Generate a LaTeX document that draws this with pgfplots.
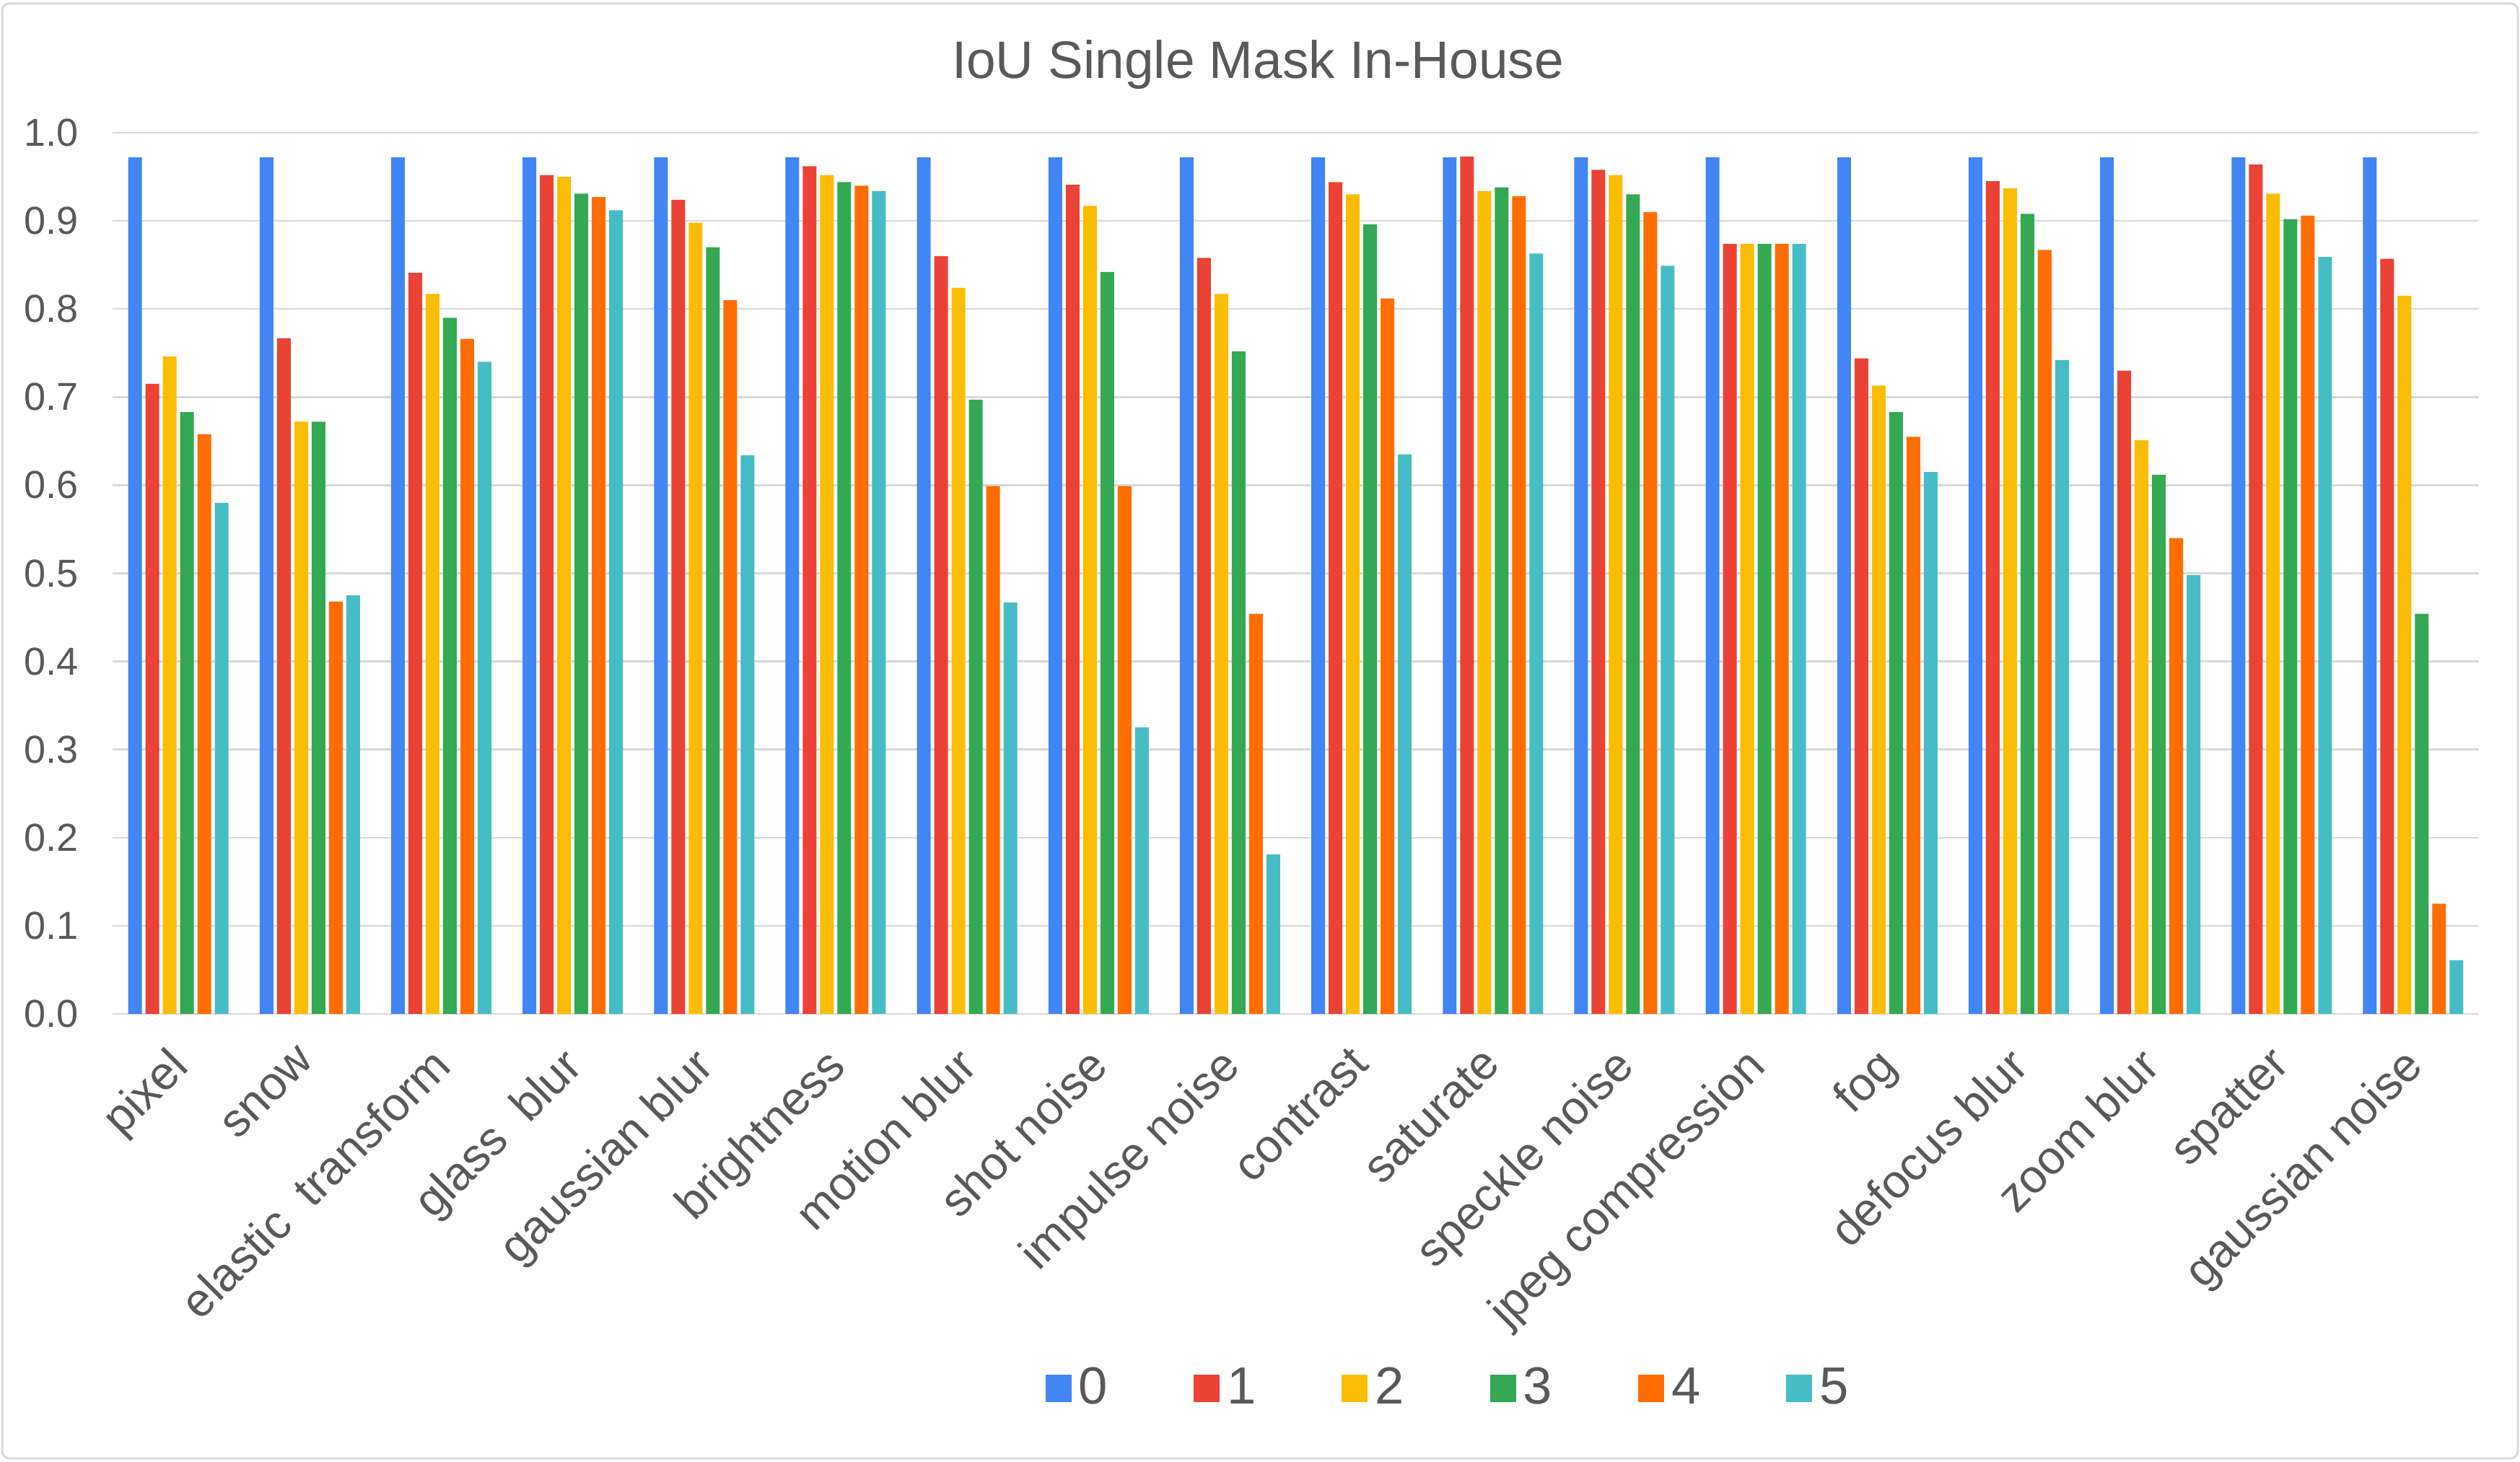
\documentclass[border=0pt]{standalone}
\usepackage{pgfplots}
\pgfplotsset{compat=1.18}
\usepackage{pgfplotstable}
\usepackage{fontspec}
\setmainfont{Liberation Sans}
\definecolor{cA}{HTML}{4285F4}
\definecolor{cB}{HTML}{EA4335}
\definecolor{cC}{HTML}{FBBC04}
\definecolor{cD}{HTML}{34A853}
\definecolor{cE}{HTML}{FF6D01}
\definecolor{cF}{HTML}{46BDC6}
\definecolor{txt}{HTML}{595959}
\definecolor{grd}{HTML}{D9D9D9}
\pgfplotstableread{
x s0 s1 s2 s3 s4 s5
0 0.972 0.715 0.746 0.683 0.658 0.580
1 0.972 0.767 0.672 0.672 0.468 0.475
2 0.972 0.841 0.817 0.790 0.766 0.740
3 0.972 0.952 0.950 0.931 0.927 0.912
4 0.972 0.924 0.898 0.870 0.810 0.634
5 0.972 0.962 0.952 0.944 0.940 0.934
6 0.972 0.860 0.824 0.697 0.599 0.467
7 0.972 0.941 0.917 0.842 0.599 0.325
8 0.972 0.858 0.817 0.752 0.454 0.181
9 0.972 0.944 0.930 0.896 0.812 0.635
10 0.972 0.973 0.934 0.938 0.928 0.863
11 0.972 0.958 0.952 0.930 0.910 0.849
12 0.972 0.874 0.874 0.874 0.874 0.874
13 0.972 0.744 0.713 0.683 0.655 0.615
14 0.972 0.945 0.937 0.908 0.867 0.742
15 0.972 0.730 0.651 0.612 0.540 0.498
16 0.972 0.964 0.931 0.902 0.906 0.859
17 0.972 0.857 0.815 0.454 0.125 0.061
}\datatable
\begin{document}
\begin{tikzpicture}
\useasboundingbox (0,0) rectangle (698.4pt,405pt);
\fill[white] (0,0) rectangle (698.4pt,405pt);
\draw[grd, line width=0.6pt, rounded corners=2pt] (0.6pt,0.8pt) rectangle (697.8pt,404pt);
\begin{axis}[
  at={(31.2pt,124pt)}, anchor=south west,
  scale only axis, width=655.8pt, height=244.2pt,
  xmin=-0.5, xmax=17.5, ymin=0, ymax=1.0,
  ybar=1.0pt, bar width=3.8pt,
  axis line style={draw=none},
  ytick={0,0.1,...,1.0},
  /pgf/number format/fixed, /pgf/number format/fixed zerofill, /pgf/number format/precision=1, /pgf/number format/assume math mode=true,
  yticklabel style={font=\fontsize{10.8}{12}\selectfont, text=txt, xshift=-6pt},
  ymajorgrids, grid style={grd, line width=0.5pt},
  major tick length=0pt,
  xtick=data,
  xticklabels={pixel, snow, elastic~~transform, glass~~blur, gaussian blur, brightness, motion blur, shot noise, impulse noise, contrast, saturate, speckle noise, jpeg compression, fog, defocus blur, zoom blur, spatter, gaussian noise},
  xticklabel style={xshift=-3.4pt, yshift=-3.6pt, rotate=45, anchor=north east, font=\fontsize{13}{15}\selectfont, text=txt},
  legend style={at={(0.5655,-0.4254)}, anchor=center, draw=none, fill=none,
    legend columns=-1, font=\fontsize{14.5}{16}\selectfont, text=txt,
    /tikz/every even column/.append style={column sep=21.8pt}},
  legend image code/.code={\fill[#1,draw=none] (0pt,-3.8pt) rectangle (7.2pt,3.8pt);},
]
\addplot[fill=cA, draw=none] table[x=x,y=s0]{\datatable};
\addplot[fill=cB, draw=none] table[x=x,y=s1]{\datatable};
\addplot[fill=cC, draw=none] table[x=x,y=s2]{\datatable};
\addplot[fill=cD, draw=none] table[x=x,y=s3]{\datatable};
\addplot[fill=cE, draw=none] table[x=x,y=s4]{\datatable};
\addplot[fill=cF, draw=none] table[x=x,y=s5]{\datatable};
\legend{0,1,2,3,4,5}
\end{axis}
\node[anchor=base, text=txt, font=\fontsize{14.6}{17}\selectfont] at (348.6pt,383.2pt) {IoU Single Mask In-House};
\end{tikzpicture}
\end{document}
